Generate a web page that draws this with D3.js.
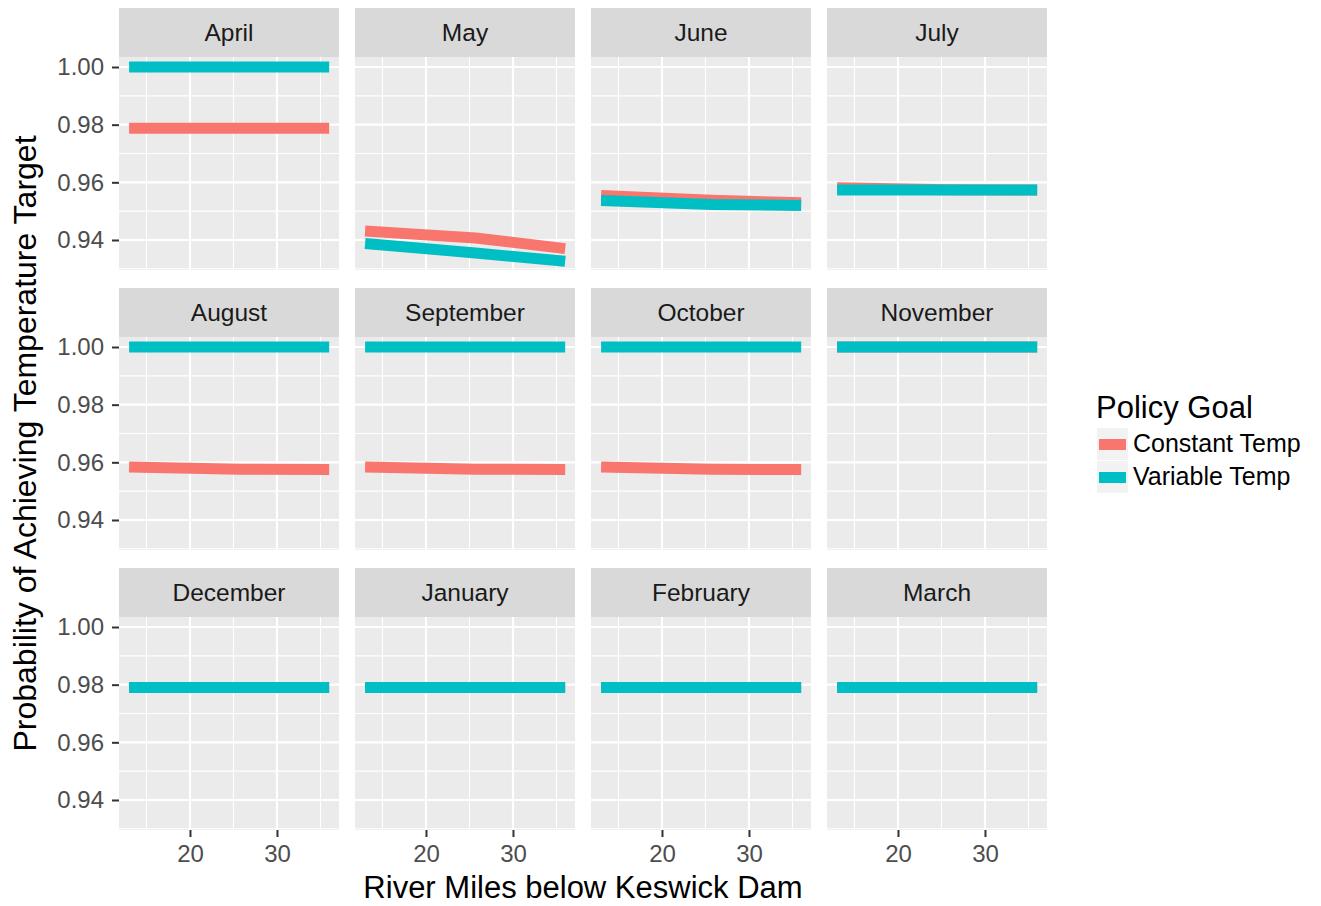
<!DOCTYPE html>
<html>
<head>
<meta charset="utf-8">
<script src="https://cdn.jsdelivr.net/npm/d3@7"></script>
<style>
  body { margin: 0; background: #fff; }
  text { font-family: "Liberation Sans", Arial, sans-serif; }
</style>
</head>
<body>
<div id="chart"></div>
<script>
// facet order as in the figure
const months = ["April", "May", "June", "July", "August", "September",
  "October", "November", "December", "January", "February", "March"];
const riverMiles = [13.0, 25.7, 36.0];

// probability per month at each river mile
const constantTemp = [
  [0.9788, 0.9788, 0.9788],
  [0.9431, 0.9407, 0.9370],
  [0.9554, 0.9538, 0.9529],
  [0.9581, 0.9574, 0.9573],
  [0.9584, 0.9576, 0.9575],
  [0.9584, 0.9576, 0.9575],
  [0.9584, 0.9576, 0.9575],
  [1.0000, 1.0000, 1.0000],
  [0.9790, 0.9790, 0.9790],
  [0.9790, 0.9790, 0.9790],
  [0.9790, 0.9790, 0.9790],
  [0.9790, 0.9790, 0.9790]
];
const variableTemp = [
  [1.0000, 1.0000, 1.0000],
  [0.9388, 0.9355, 0.9326],
  [0.9537, 0.9523, 0.9520],
  [0.9573, 0.9573, 0.9573],
  [1.0000, 1.0000, 1.0000],
  [1.0000, 1.0000, 1.0000],
  [1.0000, 1.0000, 1.0000],
  [1.0000, 1.0000, 1.0000],
  [0.9790, 0.9790, 0.9790],
  [0.9790, 0.9790, 0.9790],
  [0.9790, 0.9790, 0.9790],
  [0.9790, 0.9790, 0.9790]
];

const policies = ["Constant Temp", "Variable Temp"];
const colors = ["#F8766D", "#00BFC4"];
const yTicks = [0.94, 0.96, 0.98, 1.00];
const yMinor = [0.93, 0.95, 0.97, 0.99];
const xTicks = [20, 30];
const xMinor = [15, 25, 35];

const width = 1321, height = 906;
const margin = { left: 119, top: 8 };
const panelW = 220, gapX = 16;
const stripH = 49, panelH = 213, rowPitch = 280;

const svg = d3.select("#chart").append("svg")
  .attr("width", width)
  .attr("height", height);

const x = d3.scaleLinear().domain([11.84, 37.13]).range([0, panelW]);
const y = d3.scaleLinear().domain([0.92959, 1.00347]).range([panelH, 0]);

const line = d3.line()
  .x((d, i) => x(riverMiles[i]))
  .y(d => y(d));

months.forEach((m, k) => {
  const col = k % 4, row = Math.floor(k / 4);
  const gx = margin.left + col * (panelW + gapX);
  const gy = margin.top + row * rowPitch;

  const g = svg.append("g").attr("transform", `translate(${gx},${gy})`);

  // strip
  g.append("rect")
    .attr("width", panelW).attr("height", stripH)
    .attr("fill", "#D9D9D9");
  g.append("text")
    .attr("x", panelW / 2).attr("y", stripH / 2 + 8.5)
    .attr("text-anchor", "middle")
    .attr("font-size", 24.5)
    .attr("fill", "#1A1A1A")
    .text(m);

  const p = g.append("g").attr("transform", `translate(0,${stripH})`);
  p.append("rect")
    .attr("width", panelW).attr("height", panelH)
    .attr("fill", "#EBEBEB");

  // grid
  p.selectAll(".ymin").data(yMinor).join("line")
    .attr("x1", 0).attr("x2", panelW)
    .attr("y1", d => y(d)).attr("y2", d => y(d))
    .attr("stroke", "#fff").attr("stroke-width", 1.1);
  p.selectAll(".xmin").data(xMinor).join("line")
    .attr("y1", 0).attr("y2", panelH)
    .attr("x1", d => x(d)).attr("x2", d => x(d))
    .attr("stroke", "#fff").attr("stroke-width", 1.1);
  p.selectAll(".ymaj").data(yTicks).join("line")
    .attr("x1", 0).attr("x2", panelW)
    .attr("y1", d => y(d)).attr("y2", d => y(d))
    .attr("stroke", "#fff").attr("stroke-width", 2.2);
  p.selectAll(".xmaj").data(xTicks).join("line")
    .attr("y1", 0).attr("y2", panelH)
    .attr("x1", d => x(d)).attr("x2", d => x(d))
    .attr("stroke", "#fff").attr("stroke-width", 2.2);

  // lines: constant first, variable on top
  [constantTemp[k], variableTemp[k]].forEach((vals, s) => {
    p.append("path")
      .attr("d", line(vals))
      .attr("fill", "none")
      .attr("stroke", colors[s])
      .attr("stroke-width", 11)
      .attr("stroke-linecap", "butt")
      .attr("stroke-linejoin", "round");
  });

  // y axis on first column
  if (col === 0) {
    const ya = p.append("g")
      .call(d3.axisLeft(y).tickValues(yTicks).tickFormat(d3.format(".2f"))
        .tickSize(7).tickPadding(8));
    ya.select(".domain").remove();
    ya.selectAll("line").attr("stroke", "#333").attr("stroke-width", 2);
    ya.selectAll("text").attr("font-size", 24).attr("fill", "#4D4D4D")
      .attr("font-family", "Liberation Sans, Arial, sans-serif");
  }
  // x axis on bottom row
  if (row === 2) {
    const xa = p.append("g").attr("transform", `translate(0,${panelH})`)
      .call(d3.axisBottom(x).tickValues(xTicks).tickSize(7).tickPadding(8));
    xa.select(".domain").remove();
    xa.selectAll("line").attr("stroke", "#333").attr("stroke-width", 2);
    xa.selectAll("text").attr("font-size", 24).attr("fill", "#4D4D4D")
      .attr("font-family", "Liberation Sans, Arial, sans-serif");
  }
});

// axis titles
const plotRight = margin.left + 4 * panelW + 3 * gapX;
const plotBottom = margin.top + 2 * rowPitch + stripH + panelH;
svg.append("text")
  .attr("x", (margin.left + plotRight) / 2).attr("y", 898)
  .attr("text-anchor", "middle")
  .attr("font-size", 31)
  .attr("fill", "#000")
  .text("River Miles below Keswick Dam");
svg.append("text")
  .attr("transform", `translate(36,${(margin.top + stripH + plotBottom) / 2}) rotate(-90)`)
  .attr("text-anchor", "middle")
  .attr("font-size", 32)
  .attr("fill", "#000")
  .text("Probability of Achieving Temperature Target");

// legend
const lg = svg.append("g").attr("transform", "translate(1096,0)");
lg.append("text")
  .attr("x", 0).attr("y", 418)
  .attr("font-size", 31)
  .text("Policy Goal");
policies.forEach((name, i) => {
  const ky = 428 + i * 33;
  lg.append("rect")
    .attr("x", 1).attr("y", ky).attr("width", 31).attr("height", 32)
    .attr("fill", "#F2F2F2");
  lg.append("rect")
    .attr("x", 3).attr("y", ky + 11).attr("width", 27).attr("height", 11)
    .attr("fill", colors[i]);
  lg.append("text")
    .attr("x", 37).attr("y", ky + 24)
    .attr("font-size", 25)
    .text(name);
});
</script>
</body>
</html>
